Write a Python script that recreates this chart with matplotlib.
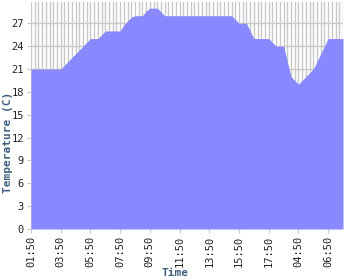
import matplotlib
matplotlib.use("Agg")
import matplotlib.pyplot as plt
import numpy as np

temps = [
    21, 21, 21, 21, 21, 21, 21, 21,            # 0-7
    21, 21.5, 22, 22.5, 23, 23.5, 24, 24.5,    # 8-15
    25, 25, 25, 25.5, 26, 26, 26, 26,          # 16-23
    26, 26.8, 27.3, 27.8, 28, 28, 28, 28.6,    # 24-31
    29, 29, 29, 28.5, 28, 28, 28, 28,          # 32-39
    28, 28, 28, 28, 28, 28, 28, 28,            # 40-47
    28, 28, 28, 28, 28, 28, 28, 27.5,          # 48-55
    27, 27, 27, 26, 25, 25, 25, 25,            # 56-63
    25, 24.5, 24, 24, 24, 22, 20, 19.5,        # 64-71
    19, 19.5, 20, 20.5, 21, 22, 23, 24,        # 72-79
    25, 25, 25, 25, 25,                        # 80-84
]
tick_labels = ["01:50", "03:50", "05:50", "07:50", "09:50", "11:50",
               "13:50", "15:50", "17:50", "04:50", "06:50"]
yticks = [0, 3, 6, 9, 12, 15, 18, 21, 24, 27]

x = np.arange(len(temps))

fig = plt.figure(figsize=(3.5, 2.8), dpi=100)
ax = fig.add_axes([31/350, 51/280, 312/350, 227/280])
ax.set_axisbelow(True)
ax.fill_between(x, temps, 0, color="#8888ff", linewidth=0, zorder=2)
ax.set_xlim(0, len(temps) - 1)
ax.set_ylim(0, 29.8)

ax.set_xticks(x, minor=True)
ax.set_xticks(x[::8])
ax.set_xticklabels(tick_labels, rotation=90, fontsize=7.5,
                   family="DejaVu Sans Mono", color="#222222")
ax.set_yticks(yticks)
ax.set_yticklabels([str(v) for v in yticks], fontsize=7.5,
                   family="DejaVu Sans Mono", color="#222222")
ax.tick_params(axis="both", which="major", length=3, color="#c8c8c8", pad=2)
ax.tick_params(axis="x", which="minor", length=0)
ax.grid(True, axis="x", which="both", color="#c8c8c8", linewidth=1.0, zorder=1)
ax.grid(True, axis="y", which="major", color="#c8c8c8", linewidth=1.0, zorder=1)
for s in ax.spines.values():
    s.set_visible(False)

ax.set_ylabel("Temperature (C)", fontsize=8, family="DejaVu Sans Mono",
              fontweight="bold", color="#3d5f80")
ax.yaxis.set_label_coords((8 - 31) / 312, (229 - 142) / 227)
ax.set_xlabel("Time", fontsize=8, family="DejaVu Sans Mono",
              fontweight="bold", color="#3d5f80")
ax.xaxis.set_label_coords((175 - 31) / 312, -(272.5 - 229) / 227)
ax.xaxis.label.set_va("center")
ax.yaxis.label.set_va("center")

fig.savefig("out.png", dpi=100)
